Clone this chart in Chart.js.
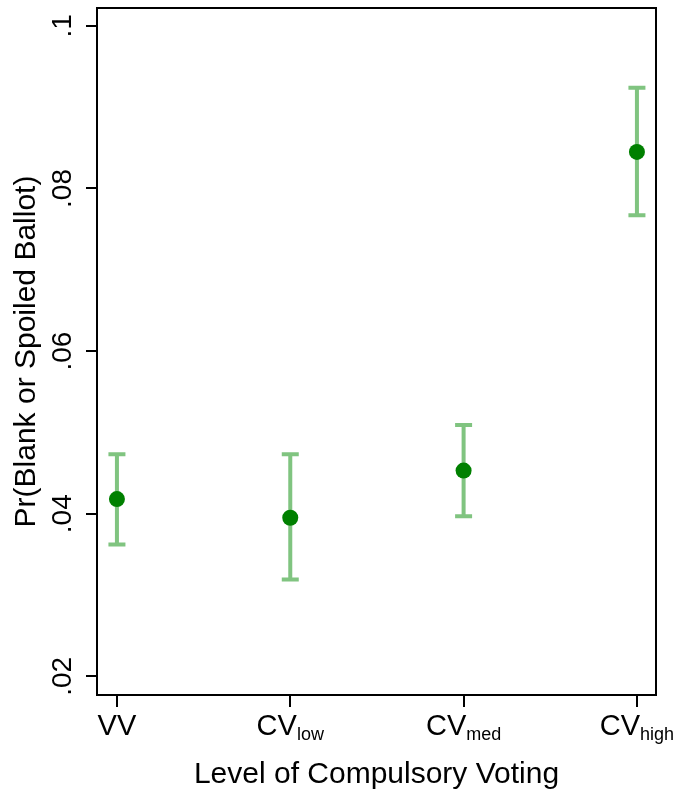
<!DOCTYPE html>
<html>
<head>
<meta charset="utf-8">
<script src="https://cdn.jsdelivr.net/npm/chart.js@4.4.0/dist/chart.umd.min.js"></script>
<style>
  html, body { margin: 0; padding: 0; background: #fff; }
</style>
</head>
<body>
<canvas id="chart" width="678" height="800"></canvas>
<script>
// values
const categories = ['VV', 'CV', 'CV', 'CV'];
const categorySubs = ['', 'low', 'med', 'high'];
const estimates = [0.0418, 0.0395, 0.0453, 0.0845];
const lowerCI = [0.0362, 0.0319, 0.0397, 0.0767];
const upperCI = [0.0473, 0.0473, 0.0509, 0.0924];
const yTicks = [0.02, 0.04, 0.06, 0.08, 0.1];
const yTickLabels = ['.02', '.04', '.06', '.08', '.1'];

const FONT = "'Liberation Sans', Arial, Helvetica, sans-serif";
const DOT_COLOR = '#008000';
const BAR_COLOR = '#80c480';

// error bars, the plot frame and the tick labels (with subscripts)
const ciPlugin = {
    id: 'ciPlugin',
    beforeDatasetsDraw(chart) {
        const { ctx, scales: { x, y } } = chart;
        ctx.save();
        ctx.strokeStyle = BAR_COLOR;
        ctx.lineWidth = 4;
        ctx.lineCap = 'butt';
        estimates.forEach((_, i) => {
            const px = x.getPixelForValue(i);
            const top = y.getPixelForValue(upperCI[i]);
            const bot = y.getPixelForValue(lowerCI[i]);
            ctx.beginPath();
            ctx.moveTo(px, top);
            ctx.lineTo(px, bot);
            ctx.moveTo(px - 8.5, top);
            ctx.lineTo(px + 8.5, top);
            ctx.moveTo(px - 8.5, bot);
            ctx.lineTo(px + 8.5, bot);
            ctx.stroke();
        });
        ctx.restore();
    },
    afterDraw(chart) {
        const { ctx, chartArea: a, scales: { x, y } } = chart;
        ctx.save();
        ctx.strokeStyle = '#000';
        ctx.lineWidth = 2;
        ctx.strokeRect(a.left, a.top, a.right - a.left, a.bottom - a.top);

        ctx.fillStyle = '#000';
        // y tick labels, rotated
        yTicks.forEach((v, i) => {
            ctx.save();
            ctx.translate(71, y.getPixelForValue(v));
            ctx.rotate(-Math.PI / 2);
            ctx.font = `28px ${FONT}`;
            ctx.textAlign = 'center';
            ctx.textBaseline = 'alphabetic';
            ctx.fillText(yTickLabels[i], 0, 0);
            ctx.restore();
        });

        // x tick labels with subscripts
        const mainFont = `29px ${FONT}`;
        const subFont = `18px ${FONT}`;
        ctx.textBaseline = 'alphabetic';
        ctx.textAlign = 'left';
        categories.forEach((c, i) => {
            ctx.font = mainFont;
            const w1 = ctx.measureText(c).width;
            ctx.font = subFont;
            const w2 = categorySubs[i] ? ctx.measureText(categorySubs[i]).width : 0;
            const start = x.getPixelForValue(i) - (w1 + w2) / 2;
            ctx.font = mainFont;
            ctx.fillText(c, start, 735);
            if (categorySubs[i]) {
                ctx.font = subFont;
                ctx.fillText(categorySubs[i], start + w1, 740);
            }
        });
        ctx.restore();
    }
};

const ctx = document.getElementById('chart').getContext('2d');
new Chart(ctx, {
    type: 'scatter',
    data: {
        datasets: [{
            data: estimates.map((v, i) => ({ x: i, y: v })),
            backgroundColor: DOT_COLOR,
            borderColor: DOT_COLOR,
            pointRadius: 8,
            pointBorderWidth: 0,
        }],
    },
    options: {
        responsive: false,
        animation: false,
        devicePixelRatio: 1,
        layout: { padding: { top: 7, right: 22, left: 0, bottom: 0 } },
        plugins: { legend: { display: false }, tooltip: { enabled: false } },
        scales: {
            x: {
                type: 'linear',
                min: -0.115,
                max: 3.11,
                afterBuildTicks: (s) => { s.ticks = categories.map((c, i) => ({ value: i })); },
                afterFit: (s) => { s.height = 105; },
                ticks: { display: false },
                border: { display: false },
                grid: { drawOnChartArea: false, drawTicks: true, tickLength: 12, color: '#000', lineWidth: 2 },
                title: {
                    display: true,
                    text: 'Level of Compulsory Voting',
                    color: '#000',
                    font: { family: FONT, size: 30 },
                    padding: { top: 0, bottom: 7 },
                },
            },
            y: {
                min: 0.0177,
                max: 0.1022,
                afterBuildTicks: (s) => { s.ticks = yTicks.map((v) => ({ value: v })); },
                afterFit: (s) => { s.width = 97; },
                ticks: { display: false },
                border: { display: false },
                grid: { drawOnChartArea: false, drawTicks: true, tickLength: 11, color: '#000', lineWidth: 2 },
                title: {
                    display: true,
                    text: 'Pr(Blank or Spoiled Ballot)',
                    color: '#000',
                    font: { family: FONT, size: 30 },
                    padding: { top: 9, bottom: 0 },
                },
            },
        },
    },
    plugins: [ciPlugin],
});
</script>
</body>
</html>
